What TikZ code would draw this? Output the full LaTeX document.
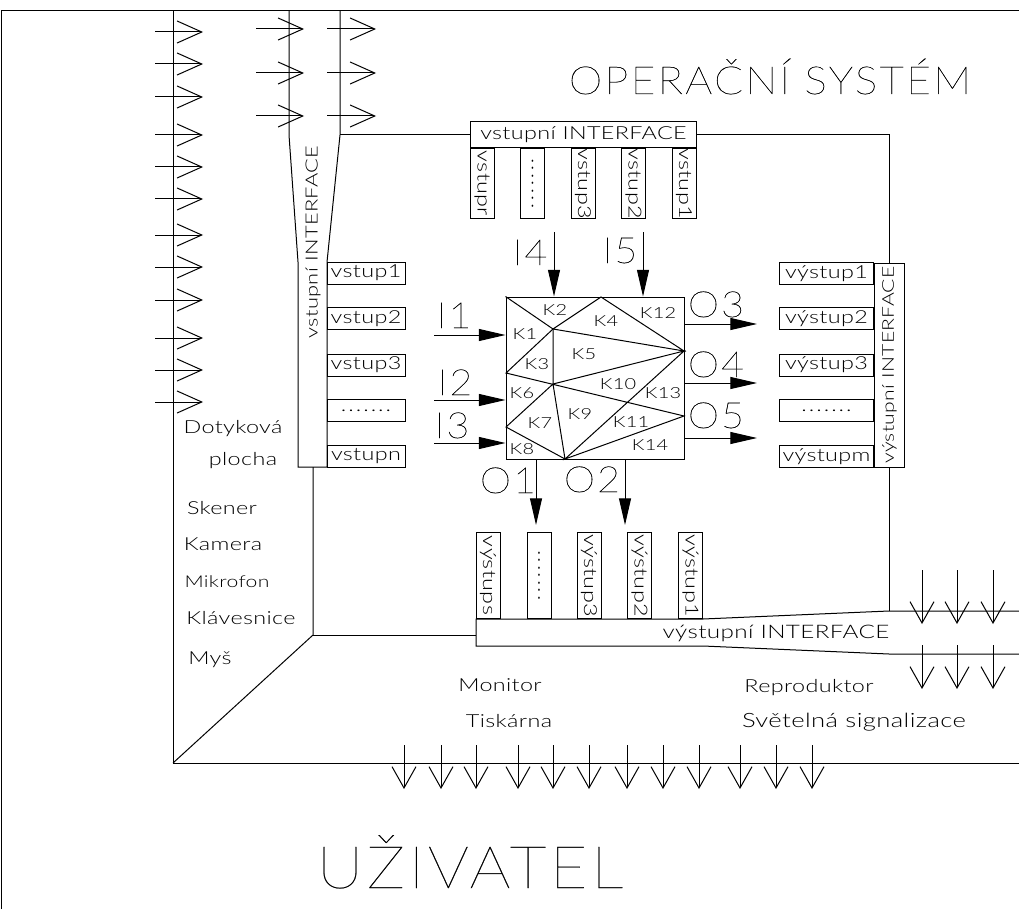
\documentclass[tikz,border=0pt]{standalone}
\usepackage{fontspec}
\usepackage{tikz}
\usetikzlibrary{arrows.meta,positioning,calc}
\newfontfamily\cadfont[FakeStretch=1.3,LetterSpace=2]{Lato Light}
\newfontfamily\bigfont[FakeStretch=1.1,LetterSpace=6,FakeBold=0.4]{Lato Thin}
\newcommand{\dotrow}{\addfontfeature{LetterSpace=11}.......}

\begin{document}
\begin{tikzpicture}[
    x=0.75pt, y=-0.75pt, line width=0.75pt,
    txt/.style={font=\cadfont\fontsize{13.5}{14}\selectfont, inner sep=0pt},
    kk/.style={font=\cadfont\fontsize{11.5}{12}\selectfont, inner sep=0pt},
    io/.style={font=\bigfont\fontsize{27}{28}\selectfont, inner sep=0pt, anchor=base},
    big/.style={font=\bigfont\fontsize{29}{30}\selectfont, inner sep=0pt, anchor=base},
    vin/.style={draw, txt, minimum width=58.5pt, minimum height=16.5pt},
    vout/.style={draw, txt, minimum width=71pt, minimum height=16.5pt},
    stin/.style={draw, txt, rotate=-90, minimum width=53pt, minimum height=18pt},
    stout/.style={draw, txt, rotate=-90, minimum width=65pt, minimum height=18pt},
    open/.style={-{Straight Barb[length=18.5pt,width=16.5pt,line width=0.75pt]}},
    opend/.style={-{Straight Barb[length=16pt,width=18pt,line width=0.75pt]}},
    solid tip/.style={-{Triangle[length=20pt,width=9pt]}}
]
\useasboundingbox (0,0) rectangle (1019,909);

% frame and OS outline
\draw (1,909) -- (1,11) -- (1019,11);
\draw (173,11) -- (173,763) -- (1019,763);
\draw (173,763) -- (313,635) -- (313,467);
\draw (313,635) -- (476,635);
\draw (340,135) -- (470,135);
\draw (697,135) -- (889,135) -- (889,263);
\draw (889,467) -- (889,611);

% input interface, left
\draw (289,11) -- (289,135) -- (298,262) -- (298,467) -- (327,467) -- (327,262) -- (340,135) -- (340,11);
\node[txt, font=\cadfont\fontsize{12.6}{13}\selectfont, rotate=90] (ifl) at (313,242) {vstupní INTERFACE};
\node[vin] (vl1) at (366,273) {vstup1};
\node[vin] (vl2) at (366,318.5) {vstup2};
\node[vin] (vl3) at (366,365) {vstup3};
\node[vin] (vl4) at (366,410.5) {\dotrow};
\node[vin] (vl5) at (366,456.5) {vstupn};

% input interface, top
\node[draw, txt, minimum width=170pt, minimum height=19.5pt] (ift) at (583.5,135) {vstupní INTERFACE};
\node[stin] (vt5) at (482,183.5) {vstupr};
\node[stin] (vt4) at (532.5,183.5) {\dotrow};
\node[stin] (vt3) at (583,183.5) {vstup3};
\node[stin] (vt2) at (633.5,183.5) {vstup2};
\node[stin] (vt1) at (684,183.5) {vstup1};

% output interface, right
\node[draw, txt, font=\cadfont\fontsize{12.2}{13}\selectfont, rotate=90, minimum width=153pt, minimum height=23pt] (ifr) at (889.5,365) {výstupní INTERFACE};
\node[vout] (vr1) at (826.5,273.5) {výstup1};
\node[vout] (vr2) at (826.5,318.5) {výstup2};
\node[vout] (vr3) at (826.5,365) {výstup3};
\node[vout] (vr4) at (826.5,410.5) {\dotrow};
\node[vout] (vr5) at (826.5,456.5) {výstupm};

% output interface, bottom
\draw (703,619) -- (476,619) -- (476,646) -- (703,646) -- (889,654) -- (1019,654);
\draw (703,619) -- (889,611) -- (1019,611);
\node[txt, font=\cadfont\fontsize{14}{15}\selectfont] (ifb) at (776,633) {výstupní INTERFACE};
\node[stout] (vb5) at (488,575.5) {výstups};
\node[stout] (vb4) at (539,575.5) {\dotrow};
\node[stout] (vb3) at (589,575.5) {výstup3};
\node[stout] (vb2) at (639.5,575.5) {výstup2};
\node[stout] (vb1) at (690.5,575.5) {výstup1};

% block with the mesh
\node[draw, minimum width=133.5pt, minimum height=121.5pt] (blok) at (595,378) {};
\coordinate (a) at (blok.north west);
\coordinate (b) at (553,329);
\coordinate (c) at (601,297);
\coordinate (d) at (684,351);
\coordinate (e) at (506,373);
\coordinate (f) at (553,384);
\coordinate (g) at (684,416);
\coordinate (h) at (506,427);
\coordinate (j) at (565,459);
\draw (a) -- (b) -- (c) -- (d) -- (b) -- (e) -- (g) -- (j) -- (d) -- (f);
\draw (b) -- (f) -- (h) -- (j) -- (f);

\node[kk] (k1) at (525,334) {K1};
\node[kk] (k2) at (555,310) {K2};
\node[kk] (k3) at (537,364) {K3};
\node[kk] (k4) at (606,321) {K4};
\node[kk] (k5) at (584,354) {K5};
\node[kk] (k6) at (522,393) {K6};
\node[kk] (k7) at (540,423) {K7};
\node[kk] (k8) at (522,449) {K8};
\node[kk] (k9) at (580,414) {K9};
\node[kk] (k10) at (618,384) {K10};
\node[kk] (k11) at (631,422) {K11};
\node[kk] (k12) at (658,313) {K12};
\node[kk] (k13) at (663,393) {K13};
\node[kk] (k14) at (650,445) {K14};

% inputs and outputs of the block
\coordinate (i1) at (434,335);
\coordinate (i2) at (434,400);
\coordinate (i3) at (434,443);
\coordinate (i4) at (554,232);
\coordinate (i5) at (643,232);
\coordinate (o1) at (536,525);
\coordinate (o2) at (625,525);
\coordinate (o3) at (757,324);
\coordinate (o4) at (757,383);
\coordinate (o5) at (757,438);
\draw[solid tip] (i1) -- (i1 -| blok.west);
\draw[solid tip] (i2) -- (i2 -| blok.west);
\draw[solid tip] (i3) -- (i3 -| blok.west);
\draw[solid tip] (i4) -- (i4 |- blok.north);
\draw[solid tip] (i5) -- (i5 |- blok.north);
\draw[solid tip] (o1 |- blok.south) -- (o1);
\draw[solid tip] (o2 |- blok.south) -- (o2);
\draw[solid tip] (o3 -| blok.east) -- (o3);
\draw[solid tip] (o4 -| blok.east) -- (o4);
\draw[solid tip] (o5 -| blok.east) -- (o5);

\node[io] (li1) at (454,328) {I1};
\node[io] (li2) at (455,395) {I2};
\node[io] (li3) at (452,438) {I3};
\node[io] (li4) at (530,265) {I4};
\node[io] (li5) at (620,263) {I5};
\node[io] (lo1) at (508,493) {O1};
\node[io] (lo2) at (592,492) {O2};
\node[io] (lo3) at (716,317) {O3};
\node[io] (lo4) at (716,377) {O4};
\node[io] (lo5) at (716,428) {O5};

% hollow arrows
\foreach \yy in {32,64,97,135,167,199,235,267,300,338,370,402}
    \draw[open] (155,\yy) -- (203,\yy);
\foreach \yy in {29,73,116} {
    \draw[open] (256,\yy) -- (304,\yy);
    \draw[open] (327,\yy) -- (376,\yy);
}
\foreach \xx in {922,957,993} {
    \draw[opend] (\xx,570) -- (\xx,624);
    \draw[opend] (\xx,645) -- (\xx,689);
}
\foreach \xx in {404,441,476,518,553,589,627,663,699,740,776,812}
    \draw[opend] (\xx,745) -- (\xx,789);

% device names
\node[txt] (dot) at (233,429) {Dotyková};
\node[txt] (plo) at (243,461) {plocha};
\node[txt] (ske) at (222,508) {Skener};
\node[txt] (kam) at (223,544) {Kamera};
\node[txt, font=\cadfont\fontsize{12.2}{13}\selectfont] (mik) at (227,582) {Mikrofon};
\node[txt] (kla) at (241,618) {Klávesnice};
\node[txt] (mys) at (210,660) {Myš};
\node[txt] (mon) at (500,685) {Monitor};
\node[txt] (tis) at (509,721) {Tiskárna};
\node[txt] (rep) at (809,688) {Reproduktor};
\node[txt, font=\cadfont\fontsize{14.8}{15}\selectfont] (svt) at (854,722) {Světelná signalizace};

\node[big] (os) at (770,94) {OPERAČNÍ SYSTÉM};
\node[big, font=\bigfont\fontsize{44}{46}\selectfont] (uz) at (470,888) {UŽIVATEL};
\end{tikzpicture}
\end{document}
